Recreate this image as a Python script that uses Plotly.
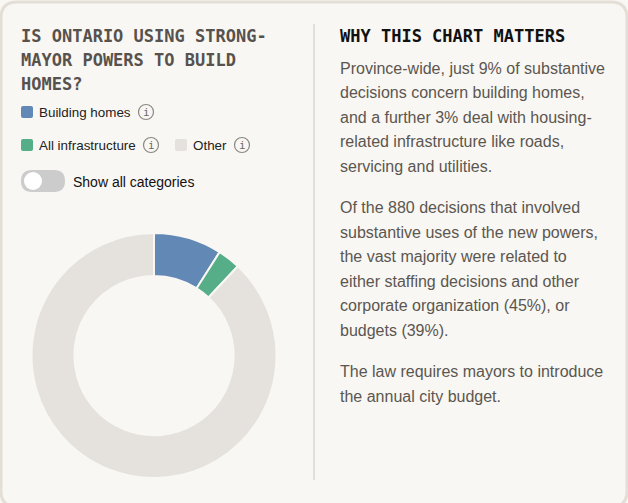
import plotly.graph_objects as go

W, H = 628, 503

categories = ["Building homes", "All infrastructure", "Other"]
shares = [9, 3, 88]
slice_colors = ["#6288B5", "#55AE88", "#E5E2DD"]

title_lines = ["IS ONTARIO USING STRONG-", "MAYOR POWERS TO BUILD", "HOMES?"]
side_title = "WHY THIS CHART MATTERS"
body_paragraphs = [
    ["Province-wide, just 9% of substantive",
     "decisions concern building homes,",
     "and a further 3% deal with housing-",
     "related infrastructure like roads,",
     "servicing and utilities."],
    ["Of the 880 decisions that involved",
     "substantive uses of the new powers,",
     "the vast majority were related to",
     "either staffing decisions and other",
     "corporate organization (45%), or",
     "budgets (39%)."],
    ["The law requires mayors to introduce",
     "the annual city budget."],
]
toggle_label = "Show all categories"

BG = "#F9F7F3"
BORDER = "#E4DFD6"
MONO = "DejaVu Sans Mono"
SANS = "Liberation Sans, Arial, sans-serif"


def rounded_rect(x0, y0, x1, y1, r):
    # svg path in pixel coords (y down), corners done with Q curves
    return (f"M{x0+r},{y0} L{x1-r},{y0} Q{x1},{y0} {x1},{y0+r} "
            f"L{x1},{y1-r} Q{x1},{y1} {x1-r},{y1} L{x0+r},{y1} "
            f"Q{x0},{y1} {x0},{y1-r} L{x0},{y0+r} Q{x0},{y0} {x0+r},{y0} Z")


fig = go.Figure()

# donut
fig.add_trace(go.Pie(
    labels=categories, values=shares, hole=0.65, sort=False,
    direction="clockwise", rotation=0,
    marker=dict(colors=slice_colors, line=dict(color=BG, width=2)),
    textinfo="none", hoverinfo="label+percent", showlegend=False,
    domain=dict(x=[31/W, 277/W], y=[(H-478)/H, (H-233)/H]),
))

shapes = []
annotations = []

# card outline and divider
shapes.append(dict(type="path", path=rounded_rect(1, 2, 627, 507, 16),
                   line=dict(color=BORDER, width=3), fillcolor=BG, layer="below",
                   xref="x", yref="y"))
shapes.append(dict(type="line", x0=314, x1=314, y0=24, y1=480,
                   line=dict(color=BORDER, width=2), xref="x", yref="y"))


def text(x, y, s, size, color, family=SANS, weight="normal"):
    annotations.append(dict(x=x, y=y, xref="x", yref="y", text=s, showarrow=False,
                            xanchor="left", yanchor="middle",
                            font=dict(family=family, size=size, color=color, weight=weight)))


def info_icon(cx, cy):
    shapes.append(dict(type="circle", x0=cx-7.5, x1=cx+7.5, y0=cy-7.5, y1=cy+7.5,
                       line=dict(color="#8A8782", width=1.2), xref="x", yref="y"))
    annotations.append(dict(x=cx, y=cy, xref="x", yref="y", text="i", showarrow=False,
                            xanchor="center", yanchor="middle",
                            font=dict(family=MONO, size=11, color="#6E6A66")))


# left title
for i, line in enumerate(title_lines):
    text(19, 36 + i*24, line, 17, "#57524D", MONO, "bold")

# legend
legend_items = [(21, 112, 0, 146), (21, 145, 1, 151), (175, 145, 2, 242)]
for x, y, k, icon_x in legend_items:
    shapes.append(dict(type="path", path=rounded_rect(x, y-6, x+12, y+6, 2),
                       fillcolor=slice_colors[k], line=dict(width=0), xref="x", yref="y"))
    text(x+16, y, categories[k], 13.4, "#222222")
    info_icon(icon_x, y)

# toggle
shapes.append(dict(type="path", path=rounded_rect(21, 170, 65, 192, 11),
                   fillcolor="#CCCCCC", line=dict(width=0), xref="x", yref="y"))
shapes.append(dict(type="circle", x0=24, x1=42, y0=172, y1=190,
                   fillcolor="#FFFFFF", line=dict(width=0), xref="x", yref="y"))
text(71, 182, toggle_label, 14, "#111111")

# right column
text(338, 36, side_title, 17, "#111111", MONO, "bold")
y = 68
for para in body_paragraphs:
    for line in para:
        text(338, y, line, 16, "#5B5650")
        y += 24.6
    y += 16.5

fig.update_layout(
    width=W, height=H, margin=dict(l=0, r=0, t=0, b=0),
    paper_bgcolor=BG, plot_bgcolor="rgba(0,0,0,0)",
    xaxis=dict(range=[0, W], visible=False, fixedrange=True, domain=[0, 1]),
    yaxis=dict(range=[H, 0], visible=False, fixedrange=True, domain=[0, 1]),
    shapes=shapes, annotations=annotations,
)

# page body has an 8px default margin; drop it so the card sits at the window edge
fig.write_html("out.html", config={"displayModeBar": False},
               post_script="document.body.style.margin='0';")
